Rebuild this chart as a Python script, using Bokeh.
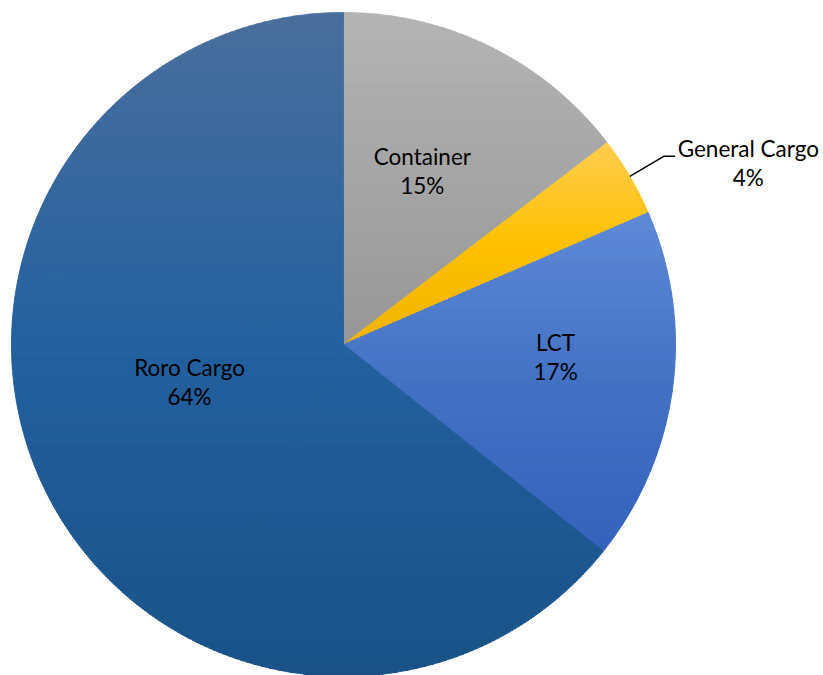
import numpy as np
from bokeh.plotting import figure
from bokeh.models import Range1d
from bokeh.embed import file_html
from bokeh.resources import INLINE
from bokeh.core.properties import value

# ---- data ----
categories = ["Container", "General Cargo", "LCT", "Roro Cargo"]
shares = [14.6, 3.9, 17.2, 64.3]
pct_labels = ["15%", "4%", "17%", "64%"]

# ---- style (per-slice gradient stops: top, middle, bottom) ----
top_colors = ["#B4B4B4", "#FFCD50", "#5E8AD8", "#4A6F9D"]
mid_colors = ["#A5A5A5", "#FFC000", "#4472C4", "#2461A0"]
bottom_colors = ["#979797", "#F0B400", "#3562BC", "#1A5288"]

# label layout: (angle offset in degrees, radius as fraction of R)
label_layout = [(-1.8, 0.573), (6.3, 1.336), (-4.1, 0.64), (12.2, 0.477)]
outside = [False, True, False, False]

W, H = 823, 675
cx, cy, R = 343.0, 331.0, 332.0   # pixel space, y measured up from bottom (675)


def hex2rgb(h):
    h = h.lstrip("#")
    return np.array([int(h[i:i + 2], 16) for i in (0, 2, 4)], dtype=float)


def grad(t, c0, c1, c2):
    a, b, c = hex2rgb(c0), hex2rgb(c1), hex2rgb(c2)
    if t < 0.5:
        col = a + (b - a) * (t / 0.5)
    else:
        col = b + (c - b) * ((t - 0.5) / 0.5)
    col = np.clip(np.round(col), 0, 255).astype(int)
    return "#%02x%02x%02x" % tuple(col)


def wedge_poly(a0, a1):
    n = max(6, int(abs(a1 - a0) / 0.5) + 2)
    th = np.radians(np.linspace(a0, a1, n))
    xs = [cx] + list(cx + R * np.sin(th))
    ys = [cy] + list(cy + R * np.cos(th))
    return list(zip(xs, ys))


def clip_half(poly, yv, keep_above):
    out = []
    if not poly:
        return out
    def inside(p):
        return p[1] >= yv if keep_above else p[1] <= yv
    def inter(p, q):
        t = (yv - p[1]) / (q[1] - p[1])
        return (p[0] + t * (q[0] - p[0]), yv)
    prev = poly[-1]
    for cur in poly:
        if inside(cur):
            if not inside(prev):
                out.append(inter(prev, cur))
            out.append(cur)
        elif inside(prev):
            out.append(inter(prev, cur))
        prev = cur
    return out


p = figure(width=W, height=H, output_backend="svg", toolbar_location=None,
           x_range=Range1d(0, W), y_range=Range1d(0, H),
           min_border=0)
p.axis.visible = False
p.grid.visible = False
p.outline_line_color = None
p.background_fill_color = "white"
p.border_fill_color = "white"

total = float(sum(shares))
cum = np.concatenate([[0.0], np.cumsum(shares)]) / total * 360.0

strip_xs, strip_ys, strip_cols = [], [], []
h = 2.0
for i in range(len(categories)):
    a0, a1 = cum[i], cum[i + 1]
    nsub = int(np.ceil((a1 - a0) / 90.0))
    edges = np.linspace(a0, a1, nsub + 1)
    subs = [wedge_poly(edges[k], edges[k + 1]) for k in range(nsub)]
    allys = [pt[1] for s in subs for pt in s]
    ymin, ymax = min(allys), max(allys)
    yv = ymin
    while yv < ymax:
        t = (ymax - (yv + h / 2)) / (ymax - ymin)
        col = grad(min(max(t, 0), 1), top_colors[i], mid_colors[i], bottom_colors[i])
        for s in subs:
            c = clip_half(s, yv, True)
            c = clip_half(c, yv + h + 0.4, False)
            if len(c) >= 3:
                strip_xs.append([q[0] for q in c])
                strip_ys.append([q[1] for q in c])
                strip_cols.append(col)
        yv += h

p.patches(strip_xs, strip_ys, fill_color=strip_cols, line_color=strip_cols, line_width=0.8)

# labels
name_x, name_y, pct_x, pct_y = [], [], [], []
for i in range(len(categories)):
    mid = (cum[i] + cum[i + 1]) / 2.0
    off, frac = label_layout[i]
    ang = np.radians(mid + off)
    lx = cx + frac * R * np.sin(ang)
    ly = cy + frac * R * np.cos(ang)
    name_x.append(lx); name_y.append(ly + 14.5)
    pct_x.append(lx); pct_y.append(ly - 14.5)
    if outside[i]:
        am = np.radians(mid)
        sx, sy = cx + R * np.sin(am), cy + R * np.cos(am)
        ex, ey = cx + 1.12 * R * np.sin(am), cy + 1.12 * R * np.cos(am)
        p.line([sx, ex, ex + 11], [sy, ey, ey], line_color="black", line_width=1.5)

p.text(name_x, name_y, text=categories, text_font=value("Lato"), text_font_size="22.5px",
       text_align="center", text_baseline="middle", text_color="#000000")
p.text(pct_x, pct_y, text=pct_labels, text_font=value("Lato"), text_font_size="22.5px",
       text_align="center", text_baseline="middle", text_color="#000000")

open("out.html", "w").write(file_html(p, INLINE))
